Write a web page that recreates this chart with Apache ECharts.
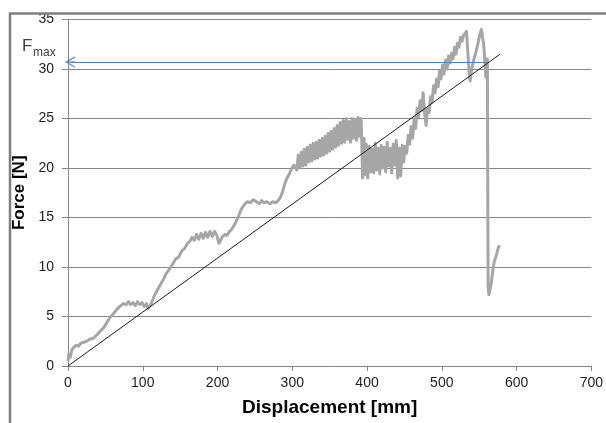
<!DOCTYPE html>
<html>
<head>
<meta charset="utf-8">
<title>Force - Displacement</title>
<script src="https://cdn.jsdelivr.net/npm/echarts@6/dist/echarts.min.js"></script>
<style>
  html, body { margin: 0; padding: 0; background: #fff; }
  #chart { width: 606px; height: 423px; }
</style>
</head>
<body>
<div id="chart"></div>
<script>
var curveData = [
  [0, 0.5], [1, 1.2], [3, 0.9], [5, 1.6], [8, 1.9], [11, 2.1], [14, 2.0], [17, 2.3], [21, 2.4],
  [25, 2.5], [29, 2.7], [34, 2.8], [38, 3.1], [43, 3.5], [48, 3.9], [52, 4.4], [56, 4.9], [61, 5.3],
  [65, 5.7], [69, 6.0], [74, 6.3], [78, 6.2], [81, 6.5], [84, 6.2], [87, 6.4], [90, 6.1], [93, 6.5],
  [96, 6.2], [99, 6.4], [102, 6.0], [105, 6.3], [107, 5.8], [110, 6.1], [113, 6.6], [116, 7.2],
  [119, 7.6], [122, 8.0], [125, 8.4], [128, 8.8], [131, 9.3], [135, 9.7], [140, 10.3], [144, 10.8],
  [148, 11.0], [152, 11.6], [156, 11.9], [160, 12.4], [163, 12.6], [166, 13.0], [169, 12.7],
  [172, 13.3], [175, 12.8], [178, 13.4], [181, 12.9], [184, 13.5], [187, 13.0], [190, 13.6],
  [193, 13.1], [196, 13.6], [199, 13.2], [202, 12.4], [204, 12.3], [207, 13.1], [210, 13.3],
  [213, 13.2], [216, 13.6], [219, 13.8], [222, 14.2], [225, 14.6], [228, 15.1], [231, 15.7],
  [234, 16.1], [237, 16.4], [240, 16.6], [244, 16.5], [248, 16.8], [252, 16.6], [256, 16.4],
  [259, 16.7], [262, 16.5], [266, 16.6], [270, 16.4], [274, 16.6], [278, 16.5], [281, 16.7],
  [284, 17.0], [287, 17.6], [290, 18.4], [293, 19.0], [296, 19.4], [299, 19.9], [302, 20.3],
  [304, 20.4], [306, 19.8], [308, 21.3], [310, 20.0], [312, 21.6], [314, 20.2], [316, 21.9],
  [318, 20.3], [320, 22.1], [322, 20.6], [324, 22.3], [326, 20.7], [328, 22.5], [330, 20.9],
  [332, 22.6], [334, 21.0], [336, 22.8], [338, 21.2], [340, 23.0], [342, 21.3], [344, 23.2],
  [346, 21.5], [348, 23.5], [350, 21.7], [352, 23.7], [354, 21.9], [356, 24.0], [358, 22.1],
  [360, 24.3], [362, 22.3], [364, 24.6], [366, 22.5], [368, 24.8], [370, 22.6], [372, 25.0],
  [374, 22.9], [376, 24.7], [378, 22.6], [380, 25.0], [382, 23.0], [384, 24.9], [386, 22.8],
  [388, 25.1], [390, 23.2], [392, 25.0], [393, 22.5], [394, 19.0], [396, 23.0], [397, 19.3],
  [399, 22.4], [401, 19.0], [403, 22.2], [405, 19.6], [407, 21.9], [409, 19.5], [411, 22.5],
  [413, 19.8], [415, 22.0], [417, 19.4], [419, 22.3], [421, 20.0], [423, 22.1], [425, 19.6],
  [427, 22.6], [429, 20.2], [431, 22.0], [433, 19.5], [435, 22.4], [437, 20.3], [439, 22.8],
  [441, 19.0], [443, 22.0], [445, 19.2], [447, 22.3], [449, 20.6], [451, 22.2], [453, 21.5],
  [455, 23.3], [457, 22.4], [459, 24.2], [461, 23.0], [463, 25.0], [465, 24.0], [467, 26.0],
  [469, 25.2], [471, 26.8], [473, 25.8], [475, 27.6], [477, 25.5], [479, 24.3], [481, 26.0],
  [483, 25.6], [485, 27.2], [487, 26.6], [489, 28.3], [491, 27.6], [493, 29.0], [495, 28.2],
  [497, 29.8], [499, 29.0], [501, 30.4], [503, 29.5], [505, 30.9], [507, 30.0], [509, 31.3],
  [511, 30.6], [513, 31.6], [515, 31.0], [517, 32.2], [519, 31.5], [521, 32.6], [523, 32.2],
  [525, 33.2], [527, 32.8], [529, 33.4], [531, 33.2], [533, 33.8],
  [535, 31.5], [537, 29.2], [538, 28.8], [540, 30.0], [543, 31.0], [546, 31.8], [549, 32.8],
  [551, 33.5], [553, 34.0], [554, 34.2], [556, 32.5], [558, 30.4], [559, 29.2], [560, 30.4],
  [561, 31.0], [561.5, 17.0], [562, 8.0], [563, 7.2], [564, 7.0], [566, 8.3], [568, 9.5],
  [570, 10.5], [573, 11.2], [575, 11.8], [577, 12.2]
]
// 直线 (线性拟合)
var trendLine = [[0, 0], [578, 31.5]]
// Fmax 箭头
var fmaxLine = [[561, 30.7], [3, 30.7]]
// 坐标轴
var xAxisRange = [0, 700, 100]
var yAxisRange = [0, 35, 5]
var xAxisTitle = 'Displacement [mm]'
var yAxisTitle = 'Force [N]'

var chart = echarts.init(document.getElementById('chart'))
var gridColor = '#878787'
var labelFont = { fontFamily: 'Liberation Sans, Arial, sans-serif', fontSize: 14, color: '#1e1e1e' }

var option = {
  animation: false,
  grid: {
    left: 68,
    right: 10,
    top: 19.5,
    bottom: 57
  },
  xAxis: {
    type: 'value',
    min: xAxisRange[0],
    max: xAxisRange[1],
    interval: xAxisRange[2],
    name: xAxisTitle,
    nameLocation: 'middle',
    nameGap: 32,
    nameTextStyle: {
      fontFamily: 'Liberation Sans, Arial, sans-serif',
      fontSize: 19,
      fontWeight: 'bold',
      color: '#000'
    },
    axisLine: { show: true, lineStyle: { color: gridColor } },
    axisTick: { show: true, length: 5, lineStyle: { color: gridColor } },
    axisLabel: Object.assign({ margin: 10, showMaxLabel: true }, labelFont),
    splitLine: { show: false }
  },
  yAxis: {
    type: 'value',
    min: yAxisRange[0],
    max: yAxisRange[1],
    interval: yAxisRange[2],
    name: yAxisTitle,
    nameLocation: 'middle',
    nameGap: 36,
    nameTextStyle: {
      fontFamily: 'Liberation Sans, Arial, sans-serif',
      fontSize: 17,
      fontWeight: 'bold',
      color: '#000'
    },
    axisLine: { show: true, lineStyle: { color: gridColor } },
    axisTick: { show: true, length: 6, lineStyle: { color: gridColor } },
    axisLabel: Object.assign({ margin: 14 }, labelFont),
    splitLine: { show: true, lineStyle: { color: gridColor, width: 1 } }
  },
  series: [
    {
      type: 'line',
      name: 'curve',
      data: curveData,
      showSymbol: false,
      symbol: 'none',
      lineStyle: { color: '#a6a6a6', width: 3, join: 'round' },
      z: 2
    },
    {
      type: 'line',
      name: 'trend',
      data: trendLine,
      showSymbol: false,
      symbol: 'none',
      lineStyle: { color: '#1a1a1a', width: 1 },
      z: 3
    },
    {
      type: 'line',
      name: 'fmax',
      data: [],
      z: 4,
      markLine: {
        silent: true,
        symbol: ['none', 'path://M5.5,0L11,9.3L10.1,10L5.5,2.2L0.9,10L0,9.3Z M5,0L6,0L6,10L5,10Z'],
        symbolSize: [11, 10],
        label: { show: false },
        lineStyle: { color: '#4f81bd', width: 1, type: 'solid' },
        data: [[{ coord: fmaxLine[0] }, { coord: fmaxLine[1] }]]
      }
    }
  ],
  graphic: [
    {
      type: 'text',
      left: 22,
      top: 38,
      style: {
        text: 'F',
        font: '17px "Liberation Sans", Arial, sans-serif',
        fill: '#404040'
      }
    },
    {
      type: 'text',
      left: 33,
      top: 47,
      style: {
        text: 'max',
        font: '12px "Liberation Sans", Arial, sans-serif',
        fill: '#404040'
      }
    },
    {
      // 外边框
      type: 'rect',
      z: 100,
      shape: { x: 10, y: 13.5, width: 700, height: 500 },
      style: { fill: 'none', stroke: '#7f7f7f', lineWidth: 2.5 }
    }
  ]
}

chart.setOption(option)
</script>
</body>
</html>
